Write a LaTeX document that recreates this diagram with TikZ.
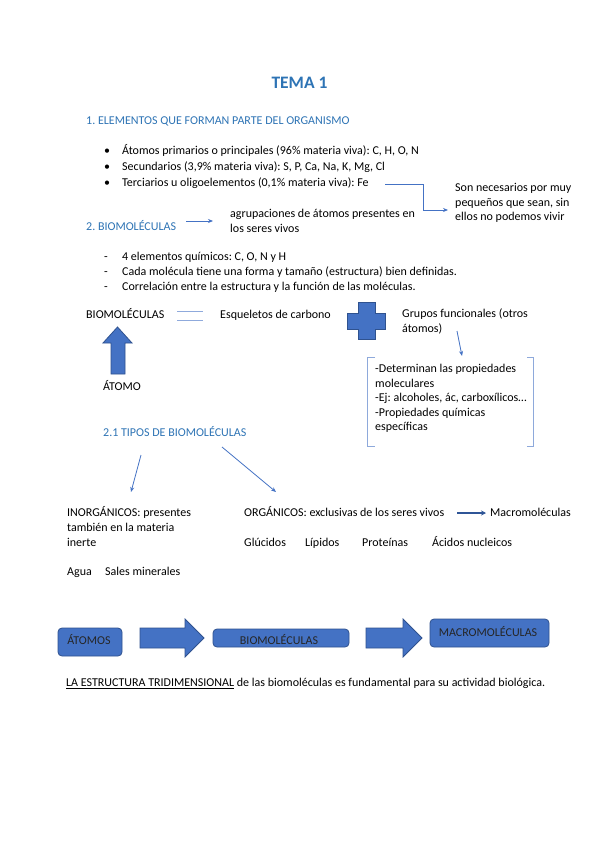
\documentclass[tikz,border=0pt]{standalone}
\usepackage{fontspec}
\setmainfont{Carlito}
\usetikzlibrary{arrows.meta}
\definecolor{hblue}{HTML}{2E74B5}
\definecolor{ablue}{HTML}{4472C4}
\definecolor{eblue}{HTML}{2F528F}
\definecolor{dblue}{HTML}{2F5597}
\definecolor{lblue}{HTML}{8FAADC}
\definecolor{brk}{HTML}{8EA9DB}
\frenchspacing
\begin{document}
\begin{tikzpicture}[x=1pt,y=-1pt,
  txt/.style={anchor=base west, inner sep=0pt, font=\fontsize{12}{15}\selectfont},
  head/.style={txt, text=hblue},
  thinarrow/.style={draw=ablue, line width=0.8pt, -{Stealth[length=5pt,width=4pt]}},
  blockfill/.style={fill=ablue, draw=eblue, line width=0.8pt},
  boxshape/.style={blockfill, rounded corners=4pt},
  boxtxt/.style={anchor=base, inner sep=0pt, font=\fontsize{12}{14}\selectfont, text=black!85}]
\useasboundingbox[fill=white] (0,0) rectangle (599,848);

% title and section 1
\node[anchor=base, inner sep=0pt, font=\fontsize{17.5}{20}\selectfont\bfseries, text=hblue] (title) at (299.5,89) {TEMA 1};
\node[head] (h1) at (86,124.5) {1. ELEMENTOS QUE FORMAN PARTE DEL ORGANISMO};
\node[txt] (bu1) at (104,154) {•};
\node[txt] (bu2) at (104,170) {•};
\node[txt] (bu3) at (104,186) {•};
\node[txt] (l1) at (122,154) {Átomos primarios o principales (96\% materia viva): C, H, O, N};
\node[txt] (l2) at (122,170) {Secundarios (3,9\% materia viva): S, P, Ca, Na, K, Mg, Cl};
\node[txt] (l3) at (122,186) {Terciarios u oligoelementos (0,1\% materia viva): Fe};
\node[txt] (s1) at (455,191.5) {Son necesarios por muy};
\node[txt] (s2) at (455,206) {pequeños que sean, sin};
\node[txt] (s3) at (455,220.5) {ellos no podemos vivir};
\coordinate (fe) at (385,184);
\coordinate (sonin) at (448,210);
\draw[thinarrow] (fe) -| (423,210) -- (sonin);

% section 2
\node[head] (h2) at (86,230.5) {2. BIOMOLÉCULAS};
\node[txt] (ag1) at (230,217.5) {agrupaciones de átomos presentes en};
\node[txt] (ag2) at (230,232.5) {los seres vivos};
\coordinate (h2out) at (186,221);
\coordinate (agin) at (213,221);
\draw[thinarrow] (h2out) -- (agin);
\node[txt] (d1) at (104,260.5) {-};
\node[txt] (d2) at (104,275.5) {-};
\node[txt] (d3) at (104,290.5) {-};
\node[txt] (dl1) at (122,260.5) {4 elementos químicos: C, O, N y H};
\node[txt] (dl2) at (122,275.5) {Cada molécula tiene una forma y tamaño (estructura) bien definidas.};
\node[txt] (dl3) at (122,290.5) {Correlación entre la estructura y la función de las moléculas.};

% biomoleculas = esqueletos + grupos
\node[txt] (bio) at (86,318.5) {BIOMOLÉCULAS};
\draw[lblue, line width=0.7pt] (177,311) -- (203,311);
\draw[lblue, line width=0.7pt] (177,320) -- (203,320);
\node[txt] (esq) at (220,318.5) {Esqueletos de carbono};
\filldraw[blockfill] (358,302) -- (375,302) -- (375,313) -- (385,313) -- (385,329) -- (375,329)
  -- (375,339) -- (358,339) -- (358,329) -- (347,329) -- (347,313) -- (358,313) -- cycle;
\node[txt] (gf1) at (402,317.5) {Grupos funcionales (otros};
\node[txt] (gf2) at (402,332.5) {átomos)};
\coordinate (gfout) at (457,331);
\coordinate (brin) at (462,356);
\draw[thinarrow] (gfout) -- (brin);
\draw[brk, line width=0.8pt] (375,357) -- (367,357) -- (367,446) -- (375,446);
\draw[brk, line width=0.8pt] (527,357) -- (533,357) -- (533,446) -- (527,446);
\node[txt] (p1) at (375,372.5) {-Determinan las propiedades};
\node[txt] (p2) at (375,387) {moleculares};
\node[txt] (p3) at (375,401.5) {-Ej: alcoholes, ác, carboxílicos…};
\node[txt] (p4) at (375,416) {-Propiedades químicas};
\node[txt] (p5) at (375,430.5) {específicas};

% up block arrow and atomo
\filldraw[blockfill] (111,374) -- (111,343) -- (103,343) -- (117.5,327) -- (132,343) -- (125,343) -- (125,374) -- cycle;
\node[txt] (atomo) at (103,390.5) {ÁTOMO};

% 2.1 tipos
\node[head] (h21) at (103,436.5) {2.1 TIPOS DE BIOMOLÉCULAS};
\coordinate (ta1) at (141,455);
\coordinate (ta2) at (131,492);
\coordinate (tb1) at (222,447);
\coordinate (tb2) at (276,492);
\draw[thinarrow] (ta1) -- (ta2);
\draw[thinarrow] (tb1) -- (tb2);
\node[txt] (in1) at (67,516.5) {INORGÁNICOS: presentes};
\node[txt] (in2) at (67,531.5) {también en la materia};
\node[txt] (in3) at (67,546.5) {inerte};
\node[txt] (org) at (244,516.5) {ORGÁNICOS: exclusivas de los seres vivos};
\node[txt] (mac) at (490,516.5) {Macromoléculas};
\coordinate (orgout) at (457,513);
\coordinate (macin) at (486,513);
\draw[dblue, line width=1.8pt, -{Stealth[length=5pt,width=5pt]}] (orgout) -- (macin);
\node[txt] (glu) at (244,546.5) {Glúcidos};
\node[txt] (lip) at (305,546.5) {Lípidos};
\node[txt] (pro) at (362,546.5) {Proteínas};
\node[txt] (aci) at (432,546.5) {Ácidos nucleicos};
\node[txt] (agua) at (67,575.5) {Agua};
\node[txt] (sales) at (105,575.5) {Sales minerales};

% bottom flow
\filldraw[boxshape] (58,628) rectangle (122,656);
\node[boxtxt] (bAt) at (89,644) {ÁTOMOS};
\filldraw[blockfill] (140,628) -- (185,628) -- (185,619) -- (204,638) -- (185,657) -- (185,648) -- (140,648) -- cycle;
\filldraw[boxshape] (213,629) rectangle (349,647);
\node[boxtxt] (bBi) at (279,644) {BIOMOLÉCULAS};
\filldraw[blockfill] (366,628) -- (403,628) -- (403,619) -- (422,638) -- (403,657) -- (403,648) -- (366,648) -- cycle;
\filldraw[boxshape] (430,619) rectangle (549,647);
\node[boxtxt] (bMa) at (488,636) {MACROMOLÉCULAS};

\node[txt] (fin) at (66,686.5) {\underline{LA ESTRUCTURA TRIDIMENSIONAL} de las biomoléculas es fundamental para su actividad biológica.};
\end{tikzpicture}
\end{document}
